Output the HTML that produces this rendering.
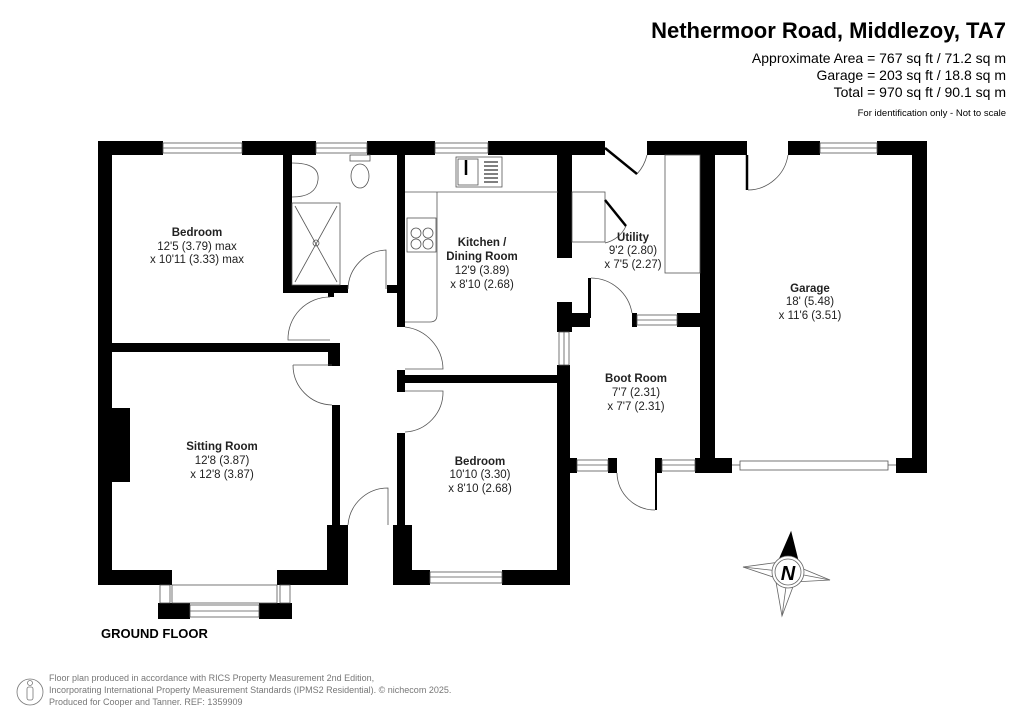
<!DOCTYPE html>
<html><head><meta charset="utf-8"><style>
html,body{margin:0;padding:0;background:#fff;}
body{width:1024px;height:724px;overflow:hidden;position:relative;font-family:"Liberation Sans",Arial,sans-serif;}
svg{position:absolute;left:0;top:0;}
</style></head><body>
<svg width="1024" height="724" viewBox="0 0 1024 724" xmlns="http://www.w3.org/2000/svg" font-family="Liberation Sans, Arial, sans-serif">
<g fill="#000">
<rect x="98" y="141" width="65" height="14"/>
<rect x="242" y="141" width="74" height="14"/>
<rect x="367" y="141" width="68" height="14"/>
<rect x="488" y="141" width="117" height="14"/>
<rect x="647" y="141" width="100" height="14"/>
<rect x="788" y="141" width="32" height="14"/>
<rect x="877" y="141" width="50" height="14"/>
<rect x="98" y="141" width="14" height="444"/>
<rect x="112" y="408" width="18" height="74"/>
<rect x="283" y="155" width="9" height="138"/>
<rect x="283" y="285" width="65" height="8"/>
<rect x="328" y="293" width="6" height="4"/>
<rect x="397" y="155" width="8" height="172"/>
<rect x="387" y="285" width="10" height="8"/>
<rect x="112" y="343" width="218" height="9"/>
<rect x="328" y="343" width="12" height="23"/>
<rect x="397" y="370" width="8" height="22"/>
<rect x="397" y="375" width="161" height="8"/>
<rect x="332" y="405" width="8" height="180"/>
<rect x="327" y="525" width="21" height="60"/>
<rect x="98" y="570" width="74" height="15"/>
<rect x="277" y="570" width="71" height="15"/>
<rect x="158" y="603" width="32" height="16"/>
<rect x="259" y="603" width="33" height="16"/>
<rect x="397" y="433" width="8" height="152"/>
<rect x="393" y="525" width="19" height="60"/>
<rect x="397" y="570" width="33" height="15"/>
<rect x="502" y="570" width="68" height="15"/>
<rect x="557" y="365" width="13" height="220"/>
<rect x="557" y="155" width="15" height="103"/>
<rect x="557" y="302" width="15" height="30"/>
<rect x="557" y="313" width="33" height="14"/>
<rect x="588" y="278" width="3" height="40"/>
<rect x="632" y="313" width="5" height="14"/>
<rect x="677" y="313" width="23" height="14"/>
<rect x="700" y="141" width="15" height="332"/>
<rect x="912" y="141" width="15" height="332"/>
<rect x="700" y="458" width="32" height="15"/>
<rect x="896" y="458" width="31" height="15"/>
<rect x="557" y="458" width="20" height="15"/>
<rect x="608" y="458" width="9" height="15"/>
<rect x="655" y="458" width="7" height="15"/>
<rect x="695" y="458" width="37" height="15"/>
<rect x="655" y="458" width="2" height="52"/>
</g>
<g fill="none" stroke="#555" stroke-width="0.8">
<rect x="163" y="143" width="79" height="10"/><line x1="163" y1="148" x2="242" y2="148"/>
<rect x="316" y="143" width="51" height="10"/><line x1="316" y1="148" x2="367" y2="148"/>
<rect x="435" y="143" width="53" height="10"/><line x1="435" y1="148" x2="488" y2="148"/>
<rect x="820" y="143" width="57" height="10"/><line x1="820" y1="148" x2="877" y2="148"/>
<rect x="430" y="572" width="72" height="11"/><line x1="430" y1="577" x2="502" y2="577"/>
<rect x="190" y="605" width="69" height="12"/><line x1="190" y1="611" x2="259" y2="611"/>
<rect x="160" y="585" width="10" height="18"/><rect x="280" y="585" width="10" height="18"/>
<rect x="172" y="585" width="105" height="18"/>
<rect x="637" y="315" width="40" height="10"/><line x1="637" y1="320" x2="677" y2="320"/>
<rect x="559" y="332" width="10" height="33"/><line x1="564" y1="332" x2="564" y2="365"/>
<rect x="577" y="460" width="31" height="11"/><line x1="577" y1="465" x2="608" y2="465"/>
<rect x="662" y="460" width="33" height="11"/><line x1="662" y1="465" x2="695" y2="465"/>
<rect x="740" y="461" width="148" height="9"/>
<line x1="732" y1="465" x2="740" y2="465"/><line x1="888" y1="465" x2="896" y2="465"/>
<path d="M348 289 A40 40 0 0 1 386 250 L386 289"/>
<path d="M330 297 A42 42 0 0 0 288 340 L330 340"/>
<path d="M293 365 L332 365 M293 365 A40 40 0 0 0 332 405"/>
<path d="M405 327 A43 43 0 0 1 443 369 L405 369"/>
<path d="M405 391 L443 391 A40 40 0 0 1 405 432"/>
<path d="M348 525 A40 40 0 0 1 388 488 L388 525"/>
<path d="M591 278 A42 42 0 0 1 632 313"/>
<path d="M748 190 A41 41 0 0 0 788 155"/>
<path d="M617 473 A38 38 0 0 0 655 510"/>
<path d="M647 155 A42 42 0 0 1 637 174"/>
<path d="M605 243 A30 30 0 0 0 626 226"/>
<rect x="665" y="155" width="35" height="118"/>
<rect x="572" y="192" width="33" height="50"/>
<path d="M405 192 L558 192 M437 192 L437 315 Q437 322 430 322 L405 322"/>
<rect x="292" y="203" width="48" height="82"/><line x1="295" y1="206" x2="337" y2="282"/><line x1="337" y1="206" x2="295" y2="282"/>
<circle cx="316" cy="243" r="3"/>
<path d="M292 163 Q320 163 318 180 Q316 197 292 197"/>
<ellipse cx="360" cy="176" rx="9" ry="12"/><rect x="350" y="155" width="20" height="6"/>
<rect x="456" y="157" width="46" height="30"/><rect x="458" y="159" width="20" height="26"/>
<rect x="407" y="218" width="29" height="34"/>
<circle cx="416" cy="233" r="5"/><circle cx="428" cy="233" r="5"/><circle cx="416" cy="244" r="5"/><circle cx="428" cy="244" r="5"/>
</g>
<g stroke="#000" stroke-width="2.5">
<line x1="605" y1="148" x2="637" y2="174"/>
<line x1="605" y1="200" x2="626" y2="226"/>
<line x1="747" y1="155" x2="747" y2="190"/>
<line x1="466" y1="160" x2="466" y2="175"/>
</g>
<g stroke="#000" stroke-width="1">
<line x1="484" y1="162" x2="498" y2="162"/><line x1="484" y1="166" x2="498" y2="166"/><line x1="484" y1="170" x2="498" y2="170"/><line x1="484" y1="174" x2="498" y2="174"/><line x1="484" y1="178" x2="498" y2="178"/><line x1="484" y1="182" x2="498" y2="182"/>
</g>
<!-- compass -->
<g transform="translate(788,572)" stroke="#666" stroke-width="0.8" fill="#fff">
<polygon points="-45,-5 -8,-10 0,0 -6,8"/>
<polygon points="42,8 6,10 0,0 8,-6"/>
<polygon points="-6,44 -12,10 0,0 6,12"/>
<line x1="-45" y1="-5" x2="0" y2="0"/><line x1="42" y1="8" x2="0" y2="0"/><line x1="-6" y1="44" x2="0" y2="0"/>
<polygon points="-10,-10 12,-4 3,-40" fill="#000" stroke="#000"/>
<circle r="16"/><circle r="13"/>
<text x="0" y="8" font-size="20" font-weight="bold" font-style="italic" text-anchor="middle" fill="#000" stroke="none">N</text>
</g>
<g text-anchor="middle" font-size="11.5" fill="#222">
<text x="197" y="236" font-weight="bold">Bedroom</text><text x="197" y="250">12'5 (3.79) max</text><text x="197" y="263">x 10'11 (3.33) max</text>
<text x="482" y="246" font-weight="bold">Kitchen /</text><text x="482" y="260" font-weight="bold">Dining Room</text><text x="482" y="274">12'9 (3.89)</text><text x="482" y="288">x 8'10 (2.68)</text>
<text x="633" y="241" font-weight="bold">Utility</text><text x="633" y="254">9'2 (2.80)</text><text x="633" y="268">x 7'5 (2.27)</text>
<text x="810" y="292" font-weight="bold">Garage</text><text x="810" y="305">18' (5.48)</text><text x="810" y="319">x 11'6 (3.51)</text>
<text x="636" y="382" font-weight="bold">Boot Room</text><text x="636" y="396">7'7 (2.31)</text><text x="636" y="410">x 7'7 (2.31)</text>
<text x="222" y="450" font-weight="bold">Sitting Room</text><text x="222" y="464">12'8 (3.87)</text><text x="222" y="478">x 12'8 (3.87)</text>
<text x="480" y="465" font-weight="bold">Bedroom</text><text x="480" y="478">10'10 (3.30)</text><text x="480" y="492">x 8'10 (2.68)</text>
</g>
<text x="101" y="638" font-size="13" font-weight="bold" fill="#000">GROUND FLOOR</text>
<g text-anchor="end" fill="#000">
<text x="1006" y="38" font-size="22" font-weight="bold">Nethermoor Road, Middlezoy, TA7</text>
<text x="1006" y="63" font-size="14">Approximate Area = 767 sq ft / 71.2 sq m</text>
<text x="1006" y="80" font-size="14">Garage = 203 sq ft / 18.8 sq m</text>
<text x="1006" y="97" font-size="14">Total = 970 sq ft / 90.1 sq m</text>
<text x="1006" y="116" font-size="9.5">For identification only - Not to scale</text>
</g>
<g fill="#777" font-size="9">
<circle cx="30" cy="692" r="13" fill="none" stroke="#777" stroke-width="0.8"/>
<circle cx="30" cy="683" r="2.5" fill="none" stroke="#777" stroke-width="0.8"/>
<rect x="27" y="687" width="6" height="13" rx="2" fill="none" stroke="#777" stroke-width="0.8"/>
<text x="49" y="681">Floor plan produced in accordance with RICS Property Measurement 2nd Edition,</text>
<text x="49" y="693">Incorporating International Property Measurement Standards (IPMS2 Residential).   © nichecom 2025.</text>
<text x="49" y="705">Produced for Cooper and Tanner.   REF:  1359909</text>
</g>
</svg>
</body></html>
